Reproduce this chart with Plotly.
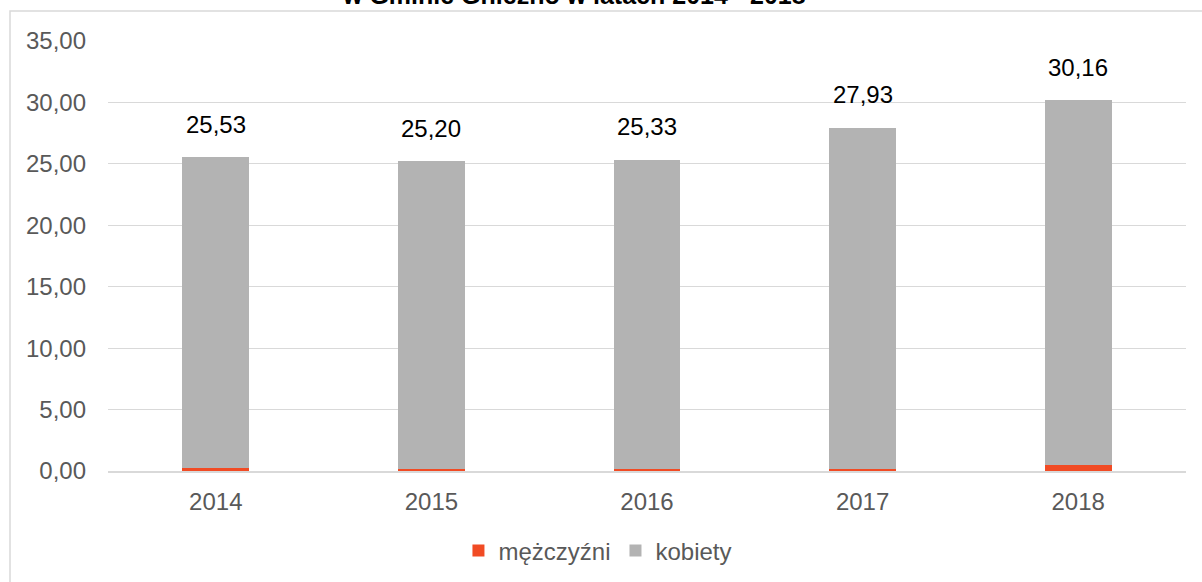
import plotly.graph_objects as go

years = ["2014", "2015", "2016", "2017", "2018"]
mezczyzni = [0.24, 0.16, 0.19, 0.16, 0.49]
kobiety = [25.29, 25.04, 25.14, 27.77, 29.67]
y_ticks = [0, 5, 10, 15, 20, 25, 30, 35]
title_text = "w Gminie Gniezno w latach 2014 - 2018"

totals = [round(m + k, 2) for m, k in zip(mezczyzni, kobiety)]

FONT = "Arial, Liberation Sans, sans-serif"
GRID = "#d9d9d9"

fig = go.Figure()
fig.add_trace(go.Bar(x=years, y=mezczyzni, name="mężczyźni",
                     marker=dict(color="#f14b24", line=dict(width=0))))
fig.add_trace(go.Bar(x=years, y=kobiety, name="kobiety",
                     marker=dict(color="#b3b3b3", line=dict(width=0))))

for i, t in enumerate(totals):
    fig.add_annotation(x=i, y=t, xref="x", yref="y",
                       text=f"{t:.2f}".replace(".", ","),
                       showarrow=False, yanchor="middle", yshift=33,
                       font=dict(family=FONT, size=24, color="#000000"))

# title (only its lower line is visible in the frame)
fig.add_annotation(x=0.4323, y=1.107, xref="paper", yref="paper",
                   text=f"<b>{title_text}</b>", showarrow=False,
                   xanchor="center", yanchor="middle",
                   font=dict(family=FONT, size=25, color="#000000"))

# chart frame
fig.add_shape(type="rect", xref="paper", yref="paper",
              x0=(10 - 108) / 1078, x1=(1230 - 108) / 1078,
              y0=(471 - 620) / 430, y1=(471 - 11) / 430,
              line=dict(color=GRID, width=1.5), fillcolor="rgba(0,0,0,0)",
              layer="below")

fig.update_layout(
    barmode="stack",
    bargap=0.69,
    width=1202, height=582,
    margin=dict(l=108, r=16, t=41, b=111, autoexpand=False),
    paper_bgcolor="white", plot_bgcolor="white",
    separators=", ",
    font=dict(family=FONT, size=24, color="#595959"),
    showlegend=True,
    legend=dict(orientation="h", x=0.4545, xanchor="center",
                y=(471 - 551) / 430, yanchor="middle",
                font=dict(family=FONT, size=24, color="#595959"),
                itemwidth=30, traceorder="normal", bgcolor="rgba(0,0,0,0)"),
    xaxis=dict(type="category", range=[-0.5, 4.5], automargin=False,
               showline=True, linecolor=GRID, linewidth=2,
               showgrid=False, ticks="", ticklabelstandoff=8,
               tickfont=dict(family=FONT, size=24, color="#595959")),
    yaxis=dict(range=[0, 35], tickvals=y_ticks, tickformat=".2f", automargin=False,
               showgrid=True, gridcolor=GRID, gridwidth=1, zeroline=False,
               showline=False, ticks="", ticklabelstandoff=21,
               tickfont=dict(family=FONT, size=24, color="#595959")),
)

fig.write_html("out.html", config={"displayModeBar": False},
               post_script="document.body.style.margin='0';document.body.style.padding='0';")
